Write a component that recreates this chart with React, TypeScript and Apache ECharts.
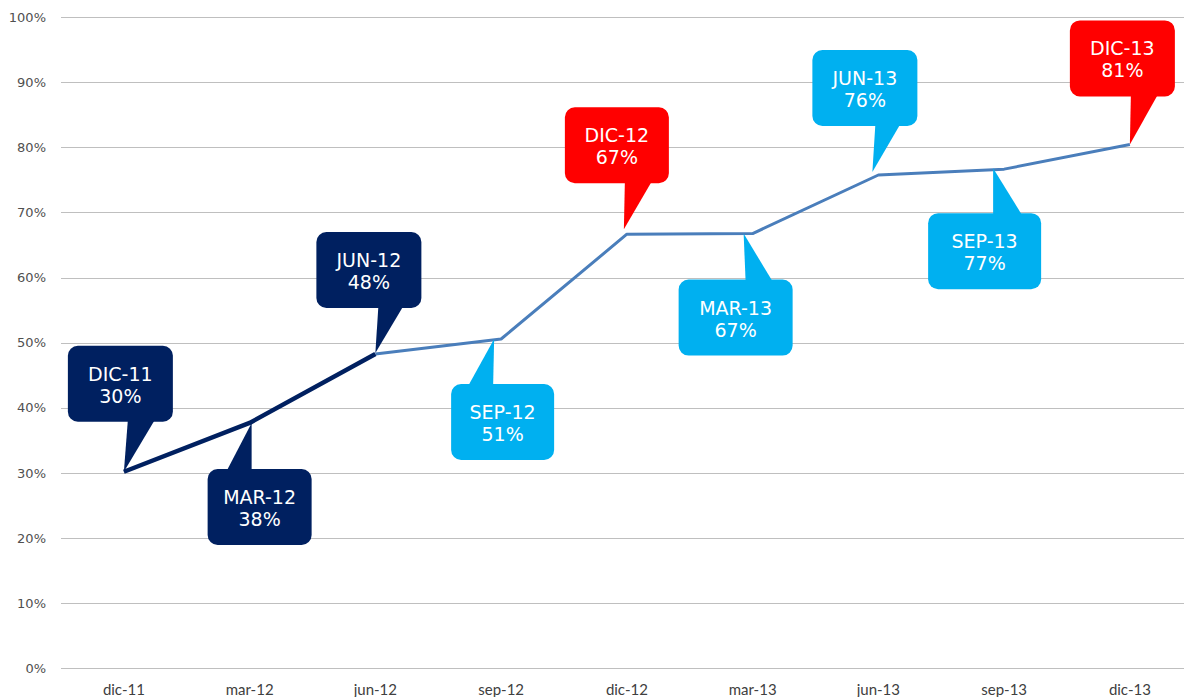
import React, { useEffect, useRef } from "react";
import * as echarts from "echarts";

// ---- data ----
const categories = ["dic-11", "mar-12", "jun-12", "sep-12", "dic-12", "mar-13", "jun-13", "sep-13", "dic-13"];
const values = [30.2, 37.7, 48.3, 50.6, 66.7, 66.8, 75.8, 76.7, 80.5];
const darkUntil = 2; // first segment (dic-11 .. jun-12) drawn in dark navy
const yTicks = { min: 0, max: 100, interval: 10 };

// ---- callout styling / layout (relative to the point) ----
const NAVY = "#002060";
const CYAN = "#00b0f0";
const RED = "#ff0000";
const calloutColors = [NAVY, NAVY, NAVY, CYAN, RED, CYAN, CYAN, CYAN, RED];
// [boxDx, boxDy, boxW, pointerBase0, pointerBase1, tipDx, tipDy]
const calloutLayout: number[][] = [
  [-56, -126, 105, 4, 31, 0, 0],
  [-42, 46, 104, -23, 2, 2, 0],
  [-59, -122, 105, 3, 28, 0, -1],
  [-50, 45, 103, -33, -8, -7, 0],
  [-62, -127, 104, -2, 25, -3, -5],
  [-74, 46, 114, -7, 20, -9, 0],
  [-66, -125, 105, -3, 22, -6, -3],
  [-76, 44, 113, -11, 18, -11, -1],
  [-60, -124, 105, 1, 28, 0, 0],
];

export default function App() {
  const ref = useRef<HTMLDivElement>(null);
  useEffect(() => {
    if (!ref.current) return;
    const chart = echarts.init(ref.current, undefined, { renderer: "svg" });
    const darkData = values.map((v, i) => (i <= darkUntil ? v : null));
    const lightData = values.map((v, i) => (i >= darkUntil ? v : null));
    const H = 76;
    chart.setOption({
      animation: false,
      backgroundColor: "#ffffff",
      grid: { left: 61, right: 7.25, top: 17.5, bottom: 28.7, containLabel: false },
      xAxis: {
        type: "category",
        data: categories,
        boundaryGap: true,
        axisLine: { show: false },
        axisTick: { show: false },
        axisLabel: { margin: 13, fontFamily: "Lato", fontSize: 15, color: "#404040" },
      },
      yAxis: {
        type: "value",
        min: yTicks.min,
        max: yTicks.max,
        interval: yTicks.interval,
        axisLine: { show: false },
        axisTick: { show: false },
        axisLabel: { formatter: "{value}%", margin: 15, fontFamily: "DejaVu Sans", fontSize: 13, color: "#505050" },
        splitLine: { lineStyle: { color: "#bfbfbf", width: 1 } },
      },
      series: [
        {
          type: "line",
          data: lightData,
          symbol: "none",
          lineStyle: { color: "#4a7ebb", width: 3 },
          z: 2,
        },
        {
          type: "line",
          data: darkData,
          symbol: "none",
          lineStyle: { color: NAVY, width: 4.5 },
          z: 3,
        },
        {
          type: "custom",
          z: 5,
          clip: false,
          data: values.map((v, i) => [i, v]),
          encode: { x: 0, y: 1 },
          renderItem: (params: any, api: any) => {
            const i = params.dataIndex;
            const pt = api.coord([api.value(0), api.value(1)]);
            const px = pt[0];
            const py = pt[1];
            const [dx, dy, w, b0, b1, tx, ty] = calloutLayout[i];
            const color = calloutColors[i];
            const x = px + dx;
            const y = py + dy;
            const baseY = dy < 0 ? y + H - 2 : y + 2;
            const label = categories[i].toUpperCase() + "\n" + Math.round(values[i]) + "%";
            return {
              type: "group",
              children: [
                {
                  type: "polygon",
                  shape: { points: [[px + b0, baseY], [px + b1, baseY], [px + tx, py + ty]] },
                  style: { fill: color },
                },
                {
                  type: "rect",
                  shape: { x, y, width: w, height: H, r: 10 },
                  style: { fill: color },
                },
                {
                  type: "text",
                  style: {
                    text: label,
                    x: x + w / 2,
                    y: y + H / 2 + 1,
                    align: "center",
                    verticalAlign: "middle",
                    fill: "#ffffff",
                    fontFamily: "DejaVu Sans",
                    fontSize: 19,
                    lineHeight: 22,
                  },
                },
              ],
            };
          },
        },
      ],
    });
    return () => chart.dispose();
  }, []);
  return <div ref={ref} style={{ position: "fixed", left: 0, top: 0, width: 1200, height: 697 }} />;
}
